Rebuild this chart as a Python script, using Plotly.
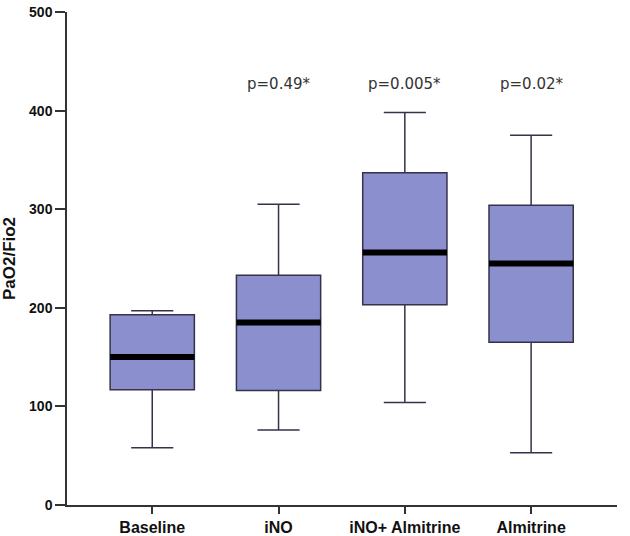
import plotly.graph_objects as go

categories = ["Baseline", "iNO", "iNO+ Almitrine", "Almitrine"]
lower_whisker = [58, 76, 104, 53]
q1_values = [117, 116, 203, 165]
medians = [150, 185, 256, 245]
q3_values = [193, 233, 337, 304]
upper_whisker = [197, 305, 398, 375]
p_labels = ["", "p=0.49*", "p=0.005*", "p=0.02*"]
p_label_y = 427
y_ticks = [0, 100, 200, 300, 400, 500]

BOX_W = 0.667
fig = go.Figure()
fig.add_trace(go.Box(
    x=categories, q1=q1_values, median=medians, q3=q3_values,
    lowerfence=lower_whisker, upperfence=upper_whisker,
    fillcolor="rgb(139,143,206)",
    line=dict(color="#33334a", width=1.5),
    whiskerwidth=0.5, width=BOX_W, boxpoints=False,
    showlegend=False, hoverinfo="skip",
))
# thick black median bars
fig.add_trace(go.Box(
    x=categories, q1=medians, median=medians, q3=medians,
    lowerfence=medians, upperfence=medians,
    fillcolor="rgba(0,0,0,0)",
    line=dict(color="black", width=6),
    whiskerwidth=0, width=BOX_W, boxpoints=False,
    showlegend=False, hoverinfo="skip",
))

for c, t in zip(categories, p_labels):
    if t:
        fig.add_annotation(x=c, y=p_label_y, text=t, showarrow=False,
                           font=dict(family="DejaVu Sans", size=15, color="#333"),
                           xref="x", yref="y")

fig.update_layout(
    width=630, height=536,
    margin=dict(l=67, r=13, t=12, b=31),
    paper_bgcolor="white", plot_bgcolor="white",
    boxmode="overlay",
    xaxis=dict(
        type="category", range=[-0.675, 3.68], automargin=False,
        showline=True, linecolor="#333", linewidth=1.5,
        ticks="outside", ticklen=7, tickwidth=1.5, tickcolor="#333",
        tickfont=dict(family="Liberation Sans, Arial", size=16, color="#111", weight="bold"),
        showgrid=False, zeroline=False,
    ),
    yaxis=dict(
        range=[0, 500], tickvals=y_ticks, automargin=False,
        showline=True, linecolor="#333", linewidth=1.5,
        ticks="outside", ticklen=10, tickwidth=1.5, tickcolor="#333",
        tickfont=dict(family="Liberation Sans, Arial", size=14, color="#111", weight="bold"),
        showgrid=False, zeroline=False,
        title=dict(text="PaO2/Fio2", standoff=9,
                   font=dict(family="Liberation Sans, Arial", size=17, color="#111", weight="bold")),
    ),
)

fig.write_html("out.html", config={"displayModeBar": False},
               post_script="document.body.style.margin='0';")
